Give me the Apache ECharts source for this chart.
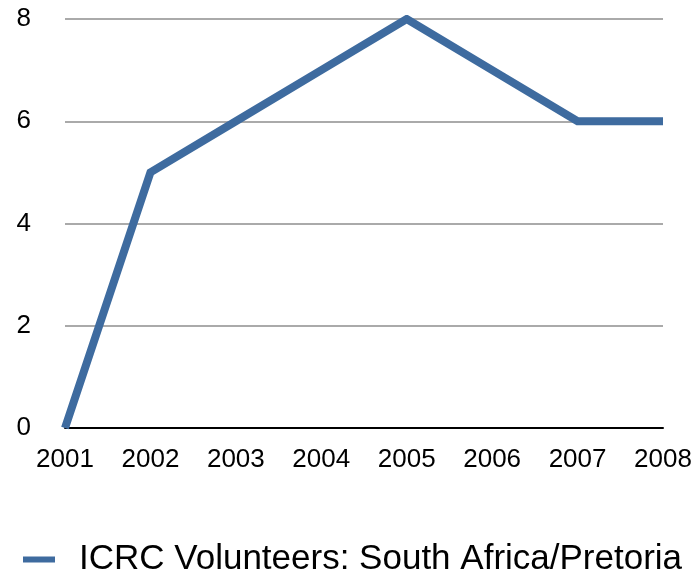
<!DOCTYPE html>
<html>
<head>
<meta charset="utf-8">
<script src="https://cdn.jsdelivr.net/npm/echarts@6/dist/echarts.min.js"></script>
<style>
  html, body { margin: 0; padding: 0; background: #fff; }
  #chart { width: 696px; height: 579px; }
</style>
</head>
<body>
<div id="chart"></div>
<script>
// data
var years = ['2001', '2002', '2003', '2004', '2005', '2006', '2007', '2008']
var volunteers = [0, 5, 6, 7, 8, 7, 6, 6]
var seriesName = 'ICRC Volunteers: South Africa/Pretoria'

var font = '"Liberation Sans", Arial, sans-serif'
var chart = echarts.init(document.getElementById('chart'))
chart.setOption({
  animation: false,
  grid: {
    left: 65,
    right: 33,
    top: 19,
    bottom: 151
  },
  legend: {
    data: [{ name: seriesName, icon: 'rect' }],
    left: 18,
    top: 537,
    itemWidth: 32,
    itemHeight: 6,
    textStyle: {
      fontFamily: font,
      fontSize: 35,
      color: '#000',
      padding: [0, 0, 0, 19]
    }
  },
  xAxis: {
    type: 'category',
    boundaryGap: false,
    data: years,
    axisLine: { lineStyle: { color: '#000', width: 2 } },
    axisTick: { show: false },
    axisLabel: {
      fontFamily: font,
      fontSize: 26,
      color: '#000',
      margin: 19,
      interval: 0
    }
  },
  yAxis: {
    type: 'value',
    min: 0,
    max: 8,
    interval: 2,
    axisLine: { show: false },
    axisTick: { show: false },
    axisLabel: {
      fontFamily: font,
      fontSize: 26,
      color: '#000',
      margin: 34
    },
    splitLine: { lineStyle: { color: '#aaaaaa', width: 2 } }
  },
  series: [
    {
      name: seriesName,
      type: 'line',
      data: volunteers,
      symbol: 'none',
      lineStyle: { color: '#3e6b9f', width: 8, join: 'miter' },
      itemStyle: { color: '#3e6b9f' }
    }
  ]
})
</script>
</body>
</html>
